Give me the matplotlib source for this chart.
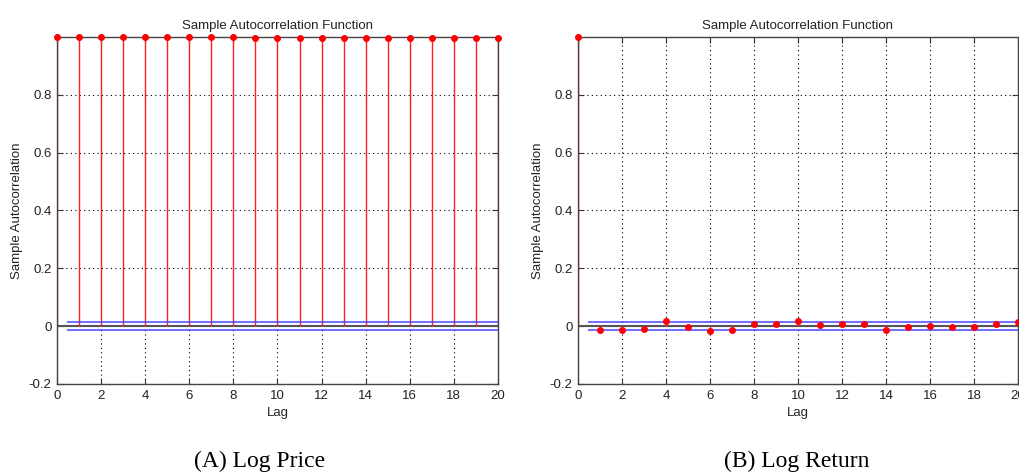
import matplotlib
matplotlib.use("Agg")
import matplotlib.pyplot as plt
import numpy as np

lags = list(range(0, 21))
acf_price = [1.000, 0.9998, 0.9996, 0.9994, 0.9992, 0.999, 0.9988, 0.9986, 0.9984, 0.9982, 0.998,
             0.9978, 0.9976, 0.9974, 0.9972, 0.997, 0.9968, 0.9966, 0.9964, 0.9962, 0.996]
acf_return = [1.000, -0.015, -0.015, -0.010, 0.017, -0.003, -0.018, -0.015, 0.007, 0.007, 0.017,
              0.005, 0.009, 0.007, -0.015, -0.003, -0.001, -0.003, -0.003, 0.009, 0.014]
bound = 0.0145
titles = ["Sample Autocorrelation Function", "Sample Autocorrelation Function"]
captions = ["(A) Log Price", "(B) Log Return"]
xticks = [0, 2, 4, 6, 8, 10, 12, 14, 16, 18, 20]
yticks = [-0.2, 0, 0.2, 0.4, 0.6, 0.8]
ytick_labels = ["-0.2", "0", "0.2", "0.4", "0.6", "0.8"]

plt.rcParams['font.family'] = ['Liberation Sans', 'DejaVu Sans']
fig = plt.figure(figsize=(10.19, 4.73), dpi=100)
positions = [[0.0559, 0.1882, 0.4328, 0.7336], [0.5672, 0.1882, 0.4318, 0.7336]]
series = [acf_price, acf_return]
cap_x = [0.255, 0.782]

for i in range(2):
    ax = fig.add_axes(positions[i])
    vals = series[i]
    ax.set_xlim(0, 20)
    ax.set_ylim(-0.2, 1.0)
    ax.set_xticks(xticks)
    ax.set_xticklabels([str(t) for t in xticks])
    ax.set_yticks(yticks)
    ax.set_yticklabels(ytick_labels)
    ax.grid(True, color='black', linestyle=(0, (1, 3)), linewidth=0.8, zorder=0)
    ax.set_axisbelow(True)
    ml, sl, bl = ax.stem(lags, vals, basefmt=' ')
    plt.setp(sl, color='#ff2020', linewidth=1.0, zorder=2)
    plt.setp(ml, color='red', markersize=4, zorder=4, clip_on=False)
    ax.axhline(0, color='#555555', linewidth=1.5, zorder=1.5)
    ax.plot([0.5, 20], [bound, bound], color='#4444ff', alpha=0.75, linewidth=1.5, zorder=3)
    ax.plot([0.5, 20], [-bound, -bound], color='#4444ff', alpha=0.75, linewidth=1.5, zorder=3)
    ax.tick_params(direction='in', top=True, right=True, length=4, labelsize=9.5,
                   color='#333333', labelcolor='#222222', pad=4)
    for s in ax.spines.values():
        s.set_color('#444444')
        s.set_linewidth(1.0)
    ax.set_title(titles[i], fontsize=9.5, color='#222222', pad=6)
    ax.set_xlabel("Lag", fontsize=9.5, color='#222222', labelpad=4)
    ax.set_ylabel("Sample Autocorrelation", fontsize=9.5, color='#222222', labelpad=4)
    fig.text(cap_x[i], 0.013, captions[i], ha='center', va='baseline',
             fontsize=17, family=['Liberation Serif', 'DejaVu Serif'])

fig.savefig("out.png", dpi=100)
